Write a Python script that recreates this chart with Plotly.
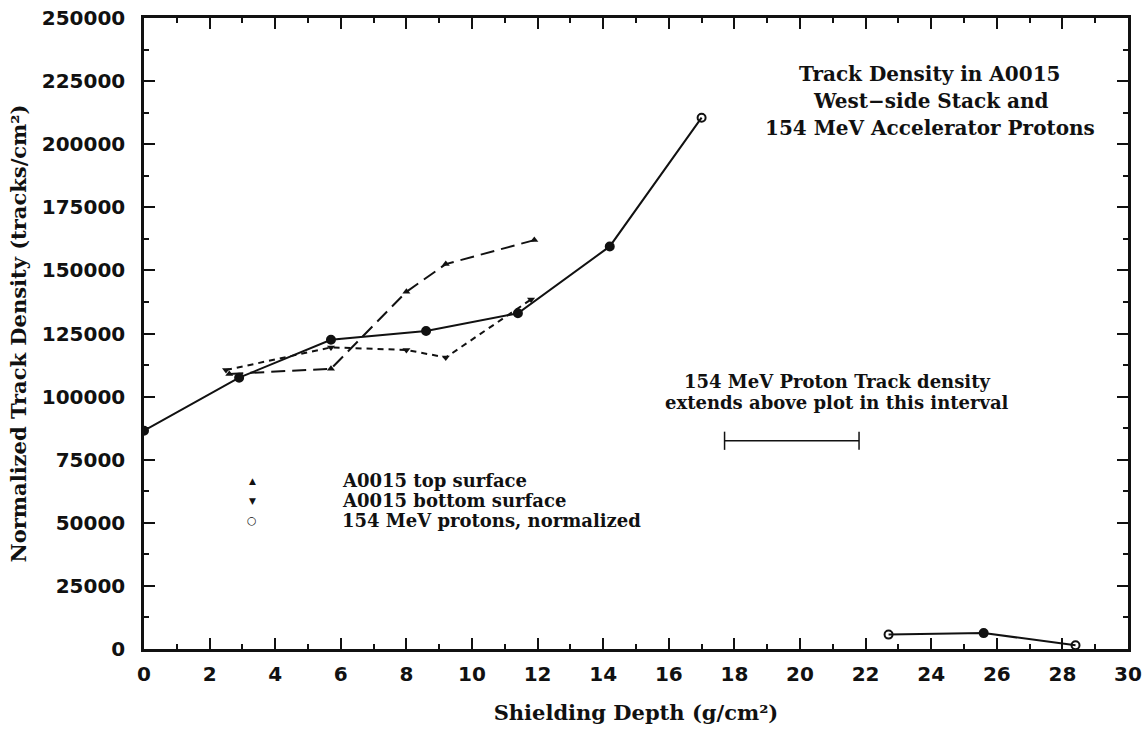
import plotly.graph_objects as go

# ---- data ----
proton_x = [0, 2.9, 5.7, 8.6, 11.4, 14.2, 17.0, None, 22.7, 25.6, 28.4]
proton_y = [86500, 107500, 122500, 126000, 133000, 159500, 210500, None, 5700, 6300, 1500]

top_x = [2.6, 5.7, 8.0, 9.2, 11.9]
top_y = [109000, 111000, 141500, 152500, 162000]

bottom_x = [2.5, 5.7, 8.0, 9.2, 11.8]
bottom_y = [110500, 119500, 118500, 115500, 138500]

interval_x = [17.7, 21.8]
interval_y = [82500, 82500]

x_ticks = list(range(0, 31, 2))
y_ticks = list(range(0, 250001, 25000))

legend_names = ["A0015 top surface", "A0015 bottom surface", "154 MeV protons, normalized"]
legend_glyphs = ["\u25b2", "\u25bc", "\u25cb"]
title_lines = ["Track Density in A0015", "West\u2212side Stack and", "154 MeV Accelerator Protons"]
interval_lines = ["154 MeV Proton Track density", "extends above plot in this interval"]

SERIF = "DejaVu Serif"
INK = "#111111"

fig = go.Figure()

fig.add_trace(go.Scatter(
    x=top_x, y=top_y, mode="lines+markers", name=legend_names[0], showlegend=False,
    line=dict(color=INK, width=2, dash="14px,7px"),
    marker=dict(symbol="triangle-up", size=7, color=INK)))

fig.add_trace(go.Scatter(
    x=bottom_x, y=bottom_y, mode="lines+markers", name=legend_names[1], showlegend=False,
    line=dict(color=INK, width=2, dash="6px,5px"),
    marker=dict(symbol="triangle-down", size=7, color=INK)))

fig.add_trace(go.Scatter(
    x=proton_x, y=proton_y, mode="lines+markers", name=legend_names[2], showlegend=False,
    connectgaps=False,
    line=dict(color=INK, width=2),
    marker=dict(symbol=["circle", "circle", "circle", "circle", "circle", "circle",
                        "circle-open", "circle", "circle-open", "circle", "circle-open"],
                size=8, color=INK, line=dict(width=2, color=INK))))

fig.add_trace(go.Scatter(
    x=interval_x, y=interval_y, mode="lines+markers", showlegend=False,
    line=dict(color=INK, width=1.5),
    marker=dict(symbol="line-ns", size=13, line=dict(width=1.5, color=INK))))

# legend drawn as text (markers only, as in the reference)
leg_y = [0.2667, 0.2350, 0.2033]
for i, (name, glyph) in enumerate(zip(legend_names, legend_glyphs)):
    fig.add_annotation(text=glyph, xref="paper", yref="paper", x=0.1098, y=leg_y[i],
                       xanchor="center", yanchor="middle", showarrow=False,
                       font=dict(family="DejaVu Sans", size=9 if i < 2 else 11, color=INK, weight="bold"))
    fig.add_annotation(text=name, xref="paper", yref="paper", x=0.199, y=leg_y[i],
                       xanchor="left", yanchor="middle", showarrow=False,
                       font=dict(family=SERIF, size=18, color=INK, weight="bold"))

for i, t in enumerate(title_lines):
    fig.add_annotation(text=t, xref="paper", yref="paper", x=0.799,
                       y=[0.912, 0.869, 0.825][i], xanchor="center", yanchor="middle",
                       showarrow=False, font=dict(family=SERIF, size=20, color=INK, weight="bold"))

for i, t in enumerate(interval_lines):
    fig.add_annotation(text=t, xref="paper", yref="paper", x=0.704,
                       y=[0.4232, 0.3899][i], xanchor="center", yanchor="middle",
                       showarrow=False, font=dict(family=SERIF, size=18, color=INK, weight="bold"))

axis_common = dict(
    showgrid=False, zeroline=False, showline=True, linecolor=INK, linewidth=2.5,
    mirror="ticks", ticks="inside", ticklen=11, tickwidth=1.5, tickcolor=INK,
    tickfont=dict(family="DejaVu Sans", size=20, color=INK, weight="bold"),
    automargin=False,
)

fig.update_xaxes(
    range=[0, 30], tickvals=x_ticks, ticktext=[str(v) for v in x_ticks],
    minor=dict(dtick=1, ticks="inside", ticklen=5, tickwidth=1.5, tickcolor=INK),
    title=dict(text="Shielding Depth (g/cm\u00b2)", standoff=21,
               font=dict(family=SERIF, size=21, color=INK, weight="bold")),
    ticklabelstandoff=5,
    **axis_common)

fig.update_yaxes(
    range=[0, 250000], tickvals=y_ticks, ticktext=[str(v) for v in y_ticks],
    minor=dict(dtick=12500, ticks="inside", ticklen=5, tickwidth=1.5, tickcolor=INK),
    title=dict(text="Normalized Track Density (tracks/cm\u00b2)", standoff=10,
               font=dict(family=SERIF, size=21, color=INK, weight="bold")),
    ticklabelstandoff=12,
    **axis_common)

fig.update_layout(
    width=1147, height=730,
    margin=dict(l=144, r=19, t=18, b=81, autoexpand=False),
    paper_bgcolor="white", plot_bgcolor="white",
    showlegend=False,
)

# remove the default 8px page margin so the figure fills the window exactly
fig.write_html("out.html", config={"displayModeBar": False},
               post_script="document.body.style.margin='0px';")
